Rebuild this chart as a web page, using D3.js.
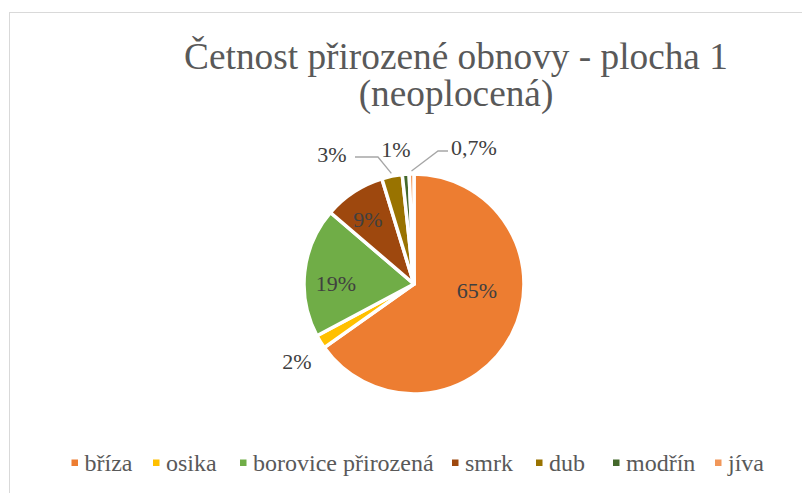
<!DOCTYPE html>
<html><head><meta charset="utf-8">
<script src="https://cdn.jsdelivr.net/npm/d3@7"></script>
<style>body{margin:0;background:#fff}svg{display:block}</style>
</head><body>
<script>
const categories = ["bříza","osika","borovice přirozená","smrk","dub","modřín","jíva"];
const values = [65, 2, 19, 9, 3, 1, 0.7];
const labels = ["65%","2%","19%","9%","3%","1%","0,7%"];
const colors = ["#ED7D31","#FFC000","#70AD47","#9E480E","#997300","#43682B","#F1975A"];
const titleLines = ["Četnost přirozené obnovy - plocha 1","(neoplocená)"];

const W = 802, H = 493;
const svg = d3.select("body").append("svg").attr("width", W).attr("height", H);
svg.append("rect").attr("x",9.5).attr("y",12.5).attr("width",W).attr("height",H).attr("fill","#fff").attr("stroke","#d9d9d9");

const font = "'Liberation Serif','Times New Roman',serif";
svg.append("g").selectAll("text").data(titleLines).join("text")
  .attr("x", 456).attr("y", (d,i)=>69+i*37).attr("text-anchor","middle")
  .attr("font-family", font).attr("font-size", 37.3).attr("fill","#595959").text(d=>d);

const cx = 414, cy = 284, r = 110;
const pie = d3.pie().sort(null).value(d=>d);
const arcs = pie(values);
const arc = d3.arc().innerRadius(0).outerRadius(r);
const g = svg.append("g").attr("transform",`translate(${cx},${cy})`);
g.selectAll("path").data(arcs).join("path")
  .attr("d", arc).attr("fill",(d,i)=>colors[i]).attr("stroke","#fff").attr("stroke-width",3.5).attr("stroke-linejoin","round");

// data label positions (Excel "best fit"), offsets from pie centre
const labelPos = [[63,6],[-117,77],[-78,-1],[-46,-65],[-82,-130],[-18,-135],[60,-137]];

g.selectAll("text.lbl").data(arcs).join("text").attr("class","lbl")
  .attr("x",(d,i)=>labelPos[i][0]).attr("y",(d,i)=>labelPos[i][1]).attr("dy","0.35em")
  .attr("text-anchor","middle").attr("font-family",font).attr("font-size",22).attr("fill","#404040")
  .text((d,i)=>labels[i]);

// leader lines: [slice index, label-side start x, bend x, y]
const leaders = [[4,-59,-36,-127],[6,34,24,-133]];
const edge = d3.arc().innerRadius(r+3).outerRadius(r+3);
leaders.forEach(([i,sx,bx,y])=>{
  const p = edge.centroid(arcs[i]);
  g.append("polyline").attr("points",[[sx,y],[bx,y],p].map(q=>q.join(",")).join(" "))
    .attr("fill","none").attr("stroke","#a6a6a6").attr("stroke-width",1.3);
});

// legend (layout: marker x positions)
const legendX = [71.5, 153, 240, 452, 536, 613, 715];
const lg = svg.append("g");
categories.forEach((c,i)=>{
  lg.append("rect").attr("x",legendX[i]).attr("y",459.5).attr("width",6.5).attr("height",6.5).attr("fill",colors[i]);
  lg.append("text").attr("x",legendX[i]+13).attr("y",471)
    .attr("font-family",font).attr("font-size",24).attr("fill","#595959").text(c);
});
</script>
</body></html>
